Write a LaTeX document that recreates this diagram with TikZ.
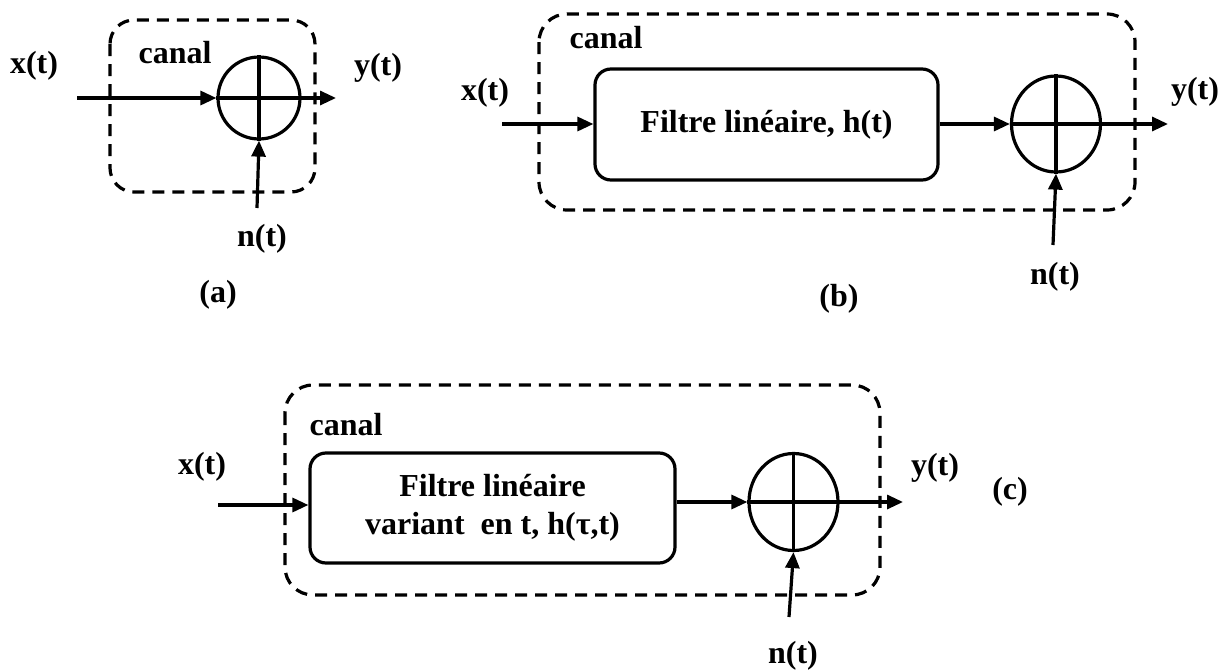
\documentclass[tikz,border=0pt]{standalone}
\usepackage{fontspec}
\setmainfont{Liberation Serif}
\usetikzlibrary{arrows.meta,shapes.geometric}
\tikzset{
  every node/.style={font=\fontsize{32}{38}\selectfont\bfseries},
  lbl/.style={inner sep=0pt},
  arr/.style={line width=3.2pt,-{Triangle[length=16pt,width=14pt]}},
  dashbox/.style={line width=3.2pt,dash pattern=on 12pt off 8pt,rounded corners=28pt},
  filt/.style={draw,line width=3.2pt,rounded corners=16pt,inner sep=0pt,align=center},
  summer/.style={draw,line width=3.2pt,ellipse,inner sep=0pt},
  cross/.style={line width=3.2pt},
}
\begin{document}
\begin{tikzpicture}[x=1pt,y=-1pt]
\useasboundingbox (0,0) rectangle (1224,672);

% ---------- (a) ----------
\draw[dashbox,rounded corners=24pt] (110,20) rectangle (315,192);
\node[summer,minimum width=82pt,minimum height=82pt] (sa) at (259,98) {};
\draw[cross] (sa.north) -- (sa.south) (sa.west) -- (sa.east);
\coordinate (xa) at (77,98);
\coordinate (ya) at (336,98);
\coordinate (na) at (257,208);
\draw[arr] (xa) -- (sa.west);
\draw[arr] (sa.east) -- (ya);
\draw[arr] (na) -- (sa.south);
\node[lbl] (lxa) at (34,66) {x(t)};
\node[lbl] (lca) at (175,53) {canal};
\node[lbl] (lya) at (378,68) {y(t)};
\node[lbl] (lna) at (262,239) {n(t)};
\node[lbl] (la) at (218,295) {(a)};

% ---------- (b) ----------
\draw[dashbox] (539,14) rectangle (1135,210);
\node[filt,minimum width=343pt,minimum height=111pt] (fb) at (766.5,124.5) {Filtre linéaire, h(t)};
\node[summer,minimum width=89pt,minimum height=96pt] (sb) at (1056,124) {};
\draw[cross] (sb.north) -- (sb.south) (sb.west) -- (sb.east);
\coordinate (xb) at (502,124);
\coordinate (yb) at (1168,124);
\coordinate (nb) at (1053,245);
\draw[arr] (xb) -- (xb -| fb.west);
\draw[arr] (fb.east |- sb.west) -- (sb.west);
\draw[arr] (sb.east) -- (yb);
\draw[arr] (nb) -- (sb.south);
\node[lbl] (lxb) at (485,93) {x(t)};
\node[lbl] (lcb) at (606,38) {canal};
\node[lbl] (lyb) at (1195,92) {y(t)};
\node[lbl] (lnb) at (1055,277) {n(t)};
\node[lbl] (lb) at (839,299) {(b)};

% ---------- (c) ----------
\draw[dashbox] (285,385) rectangle (880,595);
\node[filt,minimum width=365pt,minimum height=110pt] (fc) at (492.5,508) {Filtre linéaire\\variant~ en t, h(τ,t)};
\node[summer,minimum width=89pt,minimum height=97pt] (sc) at (793.5,502) {};
\draw[cross] (sc.north) -- (sc.south) (sc.west) -- (sc.east);
\coordinate (xc) at (218,505);
\coordinate (yc) at (903,502);
\coordinate (nc) at (789,617);
\draw[arr] (xc) -- (xc -| fc.west);
\draw[arr] (fc.east |- sc.west) -- (sc.west);
\draw[arr] (sc.east) -- (yc);
\draw[arr] (nc) -- (sc.south);
\node[lbl] (lxc) at (202,467) {x(t)};
\node[lbl] (lcc) at (346,425) {canal};
\node[lbl] (lyc) at (935,468) {y(t)};
\node[lbl] (lnc) at (793,656) {n(t)};
\node[lbl] (lc) at (1010,492) {(c)};
\end{tikzpicture}
\end{document}
